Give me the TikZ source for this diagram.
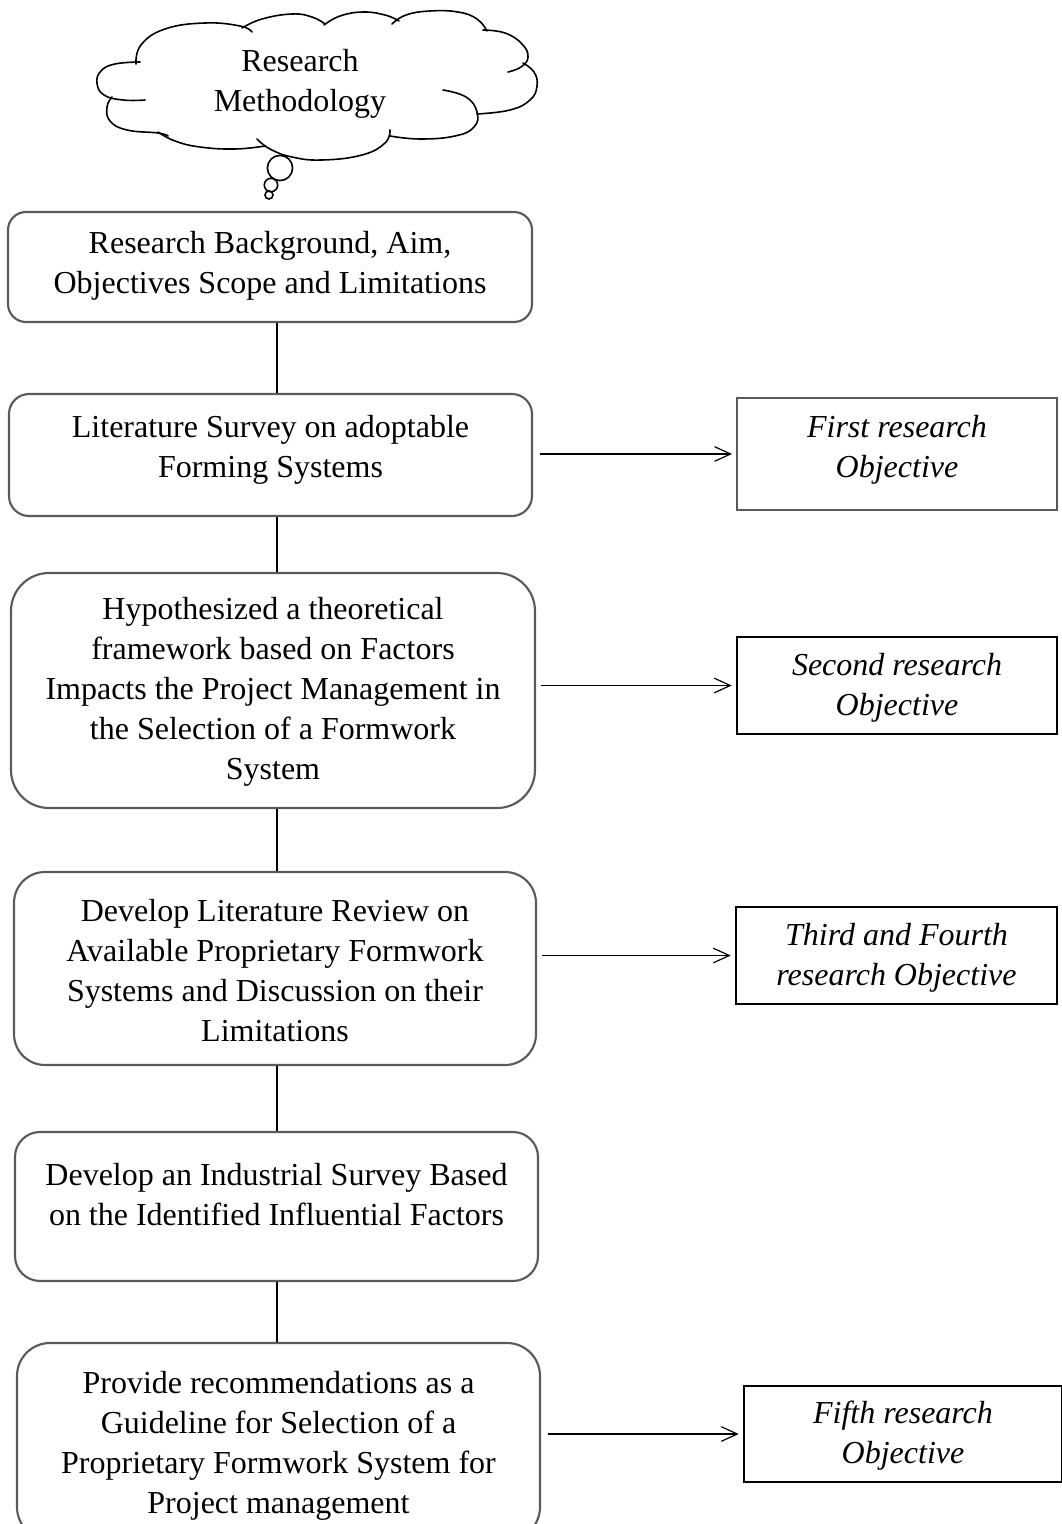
\documentclass[tikz,border=0pt]{standalone}
\usepackage{fontspec}
\setmainfont{Liberation Serif}
\usetikzlibrary{arrows.meta}
\definecolor{boxgray}{RGB}{90,90,90}
\begin{document}
\begin{tikzpicture}[x=0.75pt,y=-0.75pt,
  txt/.style={font=\fontsize{24}{30}\selectfont, align=center, inner sep=0pt},
  itxt/.style={font=\fontsize{24}{30}\selectfont\itshape, align=center, inner sep=0pt},
  stepbox/.style={draw=boxgray, line width=1.6pt, fill=white, inner sep=0pt},
  objbox/.style={draw=black, line width=1.9pt, fill=white, inner sep=0pt},
  objgray/.style={draw=boxgray, line width=1.5pt, fill=white, inner sep=0pt},
  link/.style={draw=black, line width=0.9pt},
  puff/.style={draw=black, line width=1.2pt, line cap=round},
  goal/.style={draw=black, line width=0.9pt, -{Straight Barb[length=12pt,width=11pt,line width=0.9pt]}, shorten <=0pt, shorten >=3pt}
]
\useasboundingbox (0,0) rectangle (1062,1524);
\clip (0,0) rectangle (1062,1524);

% cloud (drawn lobe by lobe)
\draw[puff] plot[smooth, tension=0.75] coordinates {(136,64) (141,45) (165,29) (205,23) (240,26) (252,32)};
\draw[puff] plot[smooth, tension=0.75] coordinates {(242,28) (262,19) (292,14) (312,17) (325,24)};
\draw[puff] plot[smooth, tension=0.75] coordinates {(324,25) (340,16) (363,12) (385,15) (399,21)};
\draw[puff] plot[smooth, tension=0.75] coordinates {(392,24) (406,15) (430,11) (458,12) (477,19) (487,31)};
\draw[puff] plot[smooth, tension=0.75] coordinates {(483,30) (505,33) (522,44) (528,57) (521,67) (508,72)};
\draw[puff] plot[smooth, tension=0.75] coordinates {(523,63) (534,72) (537,86) (530,100) (510,110) (477,114)};
\draw[puff] plot[smooth, tension=0.75] coordinates {(443,90) (466,97) (477,112) (474,127) (455,136) (420,139) (390,136)};
\draw[puff] plot[smooth, tension=0.75] coordinates {(390,130) (385,143) (362,155) (322,160) (292,157) (270,149) (257,139)};
\draw[puff] plot[smooth, tension=0.75] coordinates {(265,146) (235,149) (200,147) (175,141) (158,132)};
\draw[puff] plot[smooth, tension=0.75] coordinates {(168,136) (158,133) (127,130) (110,121) (107,107) (112,97)};
\draw[puff] plot[smooth, tension=0.75] coordinates {(145,100) (123,100) (104,95) (97,83) (101,71) (115,64) (140,62)};
\node[txt] (cloudtxt) at (300,84) {Research\\Methodology};
\draw[puff] (280,168) circle[radius=12.6];
\draw[puff] (271,185) circle[radius=6.7];
\draw[puff] (269,195) circle[radius=4];

% step boxes
\node[stepbox, rounded corners=18*0.75pt, minimum width=524*0.75pt, minimum height=110*0.75pt] (b1) at (270,267) {};
\node[txt] (t1) at (270,266) {Research Background, Aim,\\Objectives Scope and Limitations};

\node[stepbox, rounded corners=20*0.75pt, minimum width=523*0.75pt, minimum height=122*0.75pt] (b2) at (270.5,455) {};
\node[txt] (t2) at (270.5,450) {Literature Survey on adoptable\\Forming Systems};

\node[stepbox, rounded corners=38*0.75pt, minimum width=524*0.75pt, minimum height=235*0.75pt] (b3) at (273,690.5) {};
\node[txt] (t3) at (273,692) {Hypothesized a theoretical\\framework based on Factors\\Impacts the Project Management in\\the Selection of a Formwork\\System};

\node[stepbox, rounded corners=31*0.75pt, minimum width=522*0.75pt, minimum height=193*0.75pt] (b4) at (275,968.5) {};
\node[txt] (t4) at (275,971) {Develop Literature Review on\\Available Proprietary Formwork\\Systems and Discussion on their\\Limitations};

\node[stepbox, rounded corners=25*0.75pt, minimum width=523*0.75pt, minimum height=149*0.75pt] (b5) at (276.5,1206.5) {};
\node[txt] (t5) at (276.5,1195) {Develop an Industrial Survey Based\\on the Identified Influential Factors};

\node[stepbox, rounded corners=33*0.75pt, minimum width=523*0.75pt, minimum height=197*0.75pt] (b6) at (278.5,1441.5) {};
\node[txt] (t6) at (278.5,1446) {Provide recommendations as a\\Guideline for Selection of a\\Proprietary Formwork System for\\Project management};

% objective boxes
\node[objgray, minimum width=320*0.75pt, minimum height=112*0.75pt] (r1) at (897,454) {};
\node[itxt] (u1) at (897,450) {First research\\Objective};

\node[objbox, minimum width=320*0.75pt, minimum height=97*0.75pt] (r2) at (897,685.5) {};
\node[itxt] (u2) at (897,688) {Second research\\Objective};

\node[objbox, minimum width=321*0.75pt, minimum height=97*0.75pt] (r3) at (896.5,955.5) {};
\node[itxt] (u3) at (896.5,958) {Third and Fourth\\research Objective};

\node[objbox, minimum width=318*0.75pt, minimum height=96*0.75pt] (r4) at (903,1434) {};
\node[itxt] (u4) at (903,1436) {Fifth research\\Objective};

% vertical connectors
\coordinate (vx) at (277,0);
\draw[link] (b1.south -| vx) -- (b2.north -| vx);
\draw[link] (b2.south -| vx) -- (b3.north -| vx);
\draw[link] (b3.south -| vx) -- (b4.north -| vx);
\draw[link] (b4.south -| vx) -- (b5.north -| vx);
\draw[link] (b5.south -| vx) -- (b6.north -| vx);

% arrows to objectives
\coordinate (g1) at ([xshift=7*0.75pt]b2.east);
\coordinate (g2) at ([xshift=5*0.75pt]b3.east);
\coordinate (g3) at ([xshift=5*0.75pt]b4.east);
\coordinate (g4) at ([xshift=7*0.75pt]b6.east);
\draw[goal] (g1 |- r1.west) -- (r1.west);
\draw[goal] (g2 |- r2.west) -- (r2.west);
\draw[goal] (g3 |- r3.west) -- (r3.west);
\draw[goal] (g4 |- r4.west) -- (r4.west);
\end{tikzpicture}
\end{document}
